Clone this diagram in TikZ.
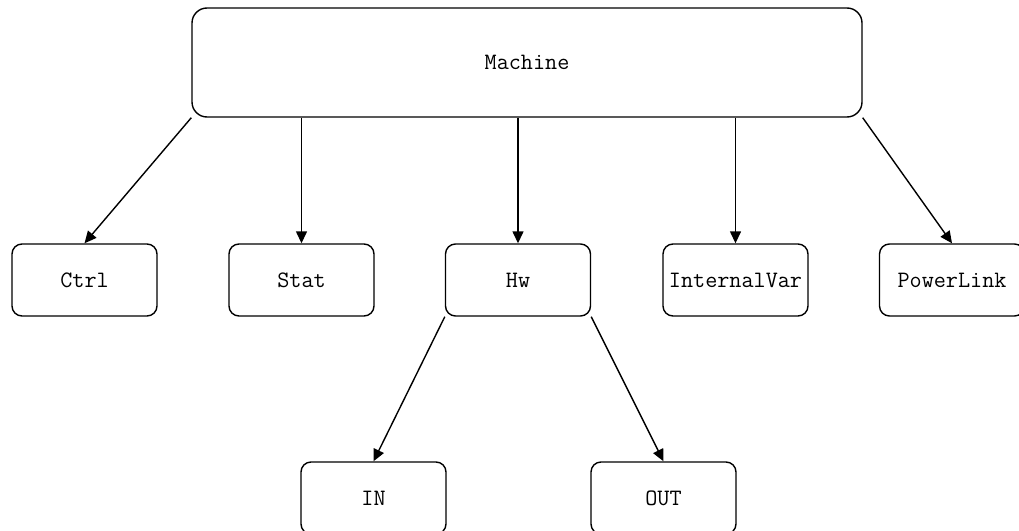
\documentclass[tikz,border=0pt]{standalone}
\usetikzlibrary{arrows.meta}

\begin{document}
\begin{tikzpicture}[x=1pt,y=-1pt,font=\ttfamily\fontsize{23.5}{26}\selectfont,
  nd/.style={draw,line width=1.4pt,rounded corners=10pt,fill=white,minimum width=145pt,minimum height=72pt,inner sep=0pt},
  ar/.style={line width=1.4pt,-{Triangle[length=12pt,width=11pt]}}]
  \useasboundingbox[fill=white] (0,0) rectangle (1019,530);
  \node[nd,rounded corners=15pt,minimum width=670pt,minimum height=109pt] (m) at (527,62.5) {Machine};
  \node[nd] (ctrl) at (84.5,280) {Ctrl};
  \node[nd] (stat) at (301.5,280) {Stat};
  \node[nd] (hw) at (518,280) {Hw};
  \node[nd] (iv) at (735.5,280) {InternalVar};
  \node[nd] (pl) at (952,280) {PowerLink};
  \node[nd] (in) at (373.5,498) {IN};
  \node[nd] (out) at (663.5,498) {OUT};
  \draw[ar] (m.south west)--(ctrl.north);
  \foreach \n in {stat,hw,iv} \draw[ar] (\n.north |- m.south)--(\n.north);
  \draw[ar] (m.south east)--(pl.north);
  \draw[ar] (hw.south west)--(in.north);
  \draw[ar] (hw.south east)--(out.north);
\end{tikzpicture}
\end{document}
